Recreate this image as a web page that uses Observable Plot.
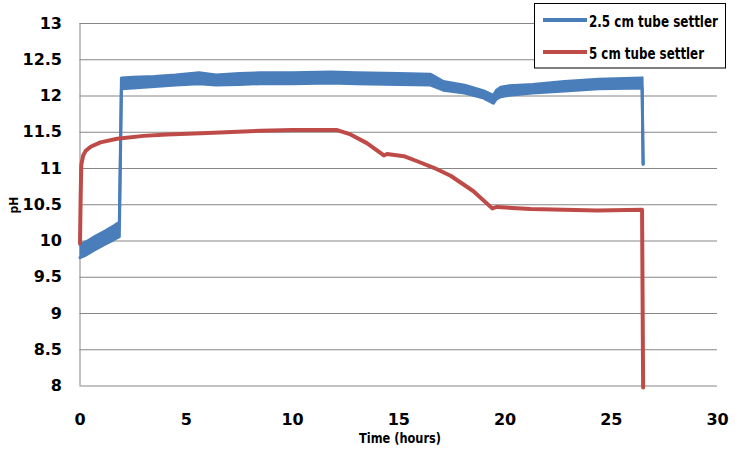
<!DOCTYPE html>
<html>
<head>
<meta charset="utf-8">
<script src="https://cdn.jsdelivr.net/npm/d3@7"></script>
<script src="https://cdn.jsdelivr.net/npm/@observablehq/plot@0.6"></script>
<style>
  body { margin: 0; background: #fff; }
  #chart { position: relative; width: 752px; height: 451px; }
</style>
</head>
<body>
<div id="chart"></div>
<script>
// 2.5 cm tube settler (noisy band: low / high edges)
const blueTime = [0, 0.3, 0.7, 1.2, 1.6, 1.85, 1.95, 2.5, 3.5, 4.5, 5.6, 6.4, 7.5, 8.5, 10, 11.8, 13, 15, 16.5, 17.1, 18.1, 19.0, 19.45, 19.6, 19.8, 20.2, 21.3, 22.8, 24.4, 26.45, 26.5];
const blueLow  = [9.77, 9.81, 9.88, 9.96, 10.02, 10.06, 12.10, 12.11, 12.13, 12.15, 12.17, 12.15, 12.16, 12.17, 12.17, 12.18, 12.17, 12.16, 12.15, 12.08, 12.04, 11.97, 11.90, 11.96, 11.99, 12.01, 12.04, 12.07, 12.10, 12.11, 11.06];
const blueHigh = [9.95, 9.99, 10.06, 10.14, 10.21, 10.26, 12.25, 12.26, 12.27, 12.29, 12.32, 12.29, 12.31, 12.32, 12.32, 12.33, 12.32, 12.31, 12.30, 12.20, 12.15, 12.07, 12.01, 12.08, 12.12, 12.14, 12.16, 12.20, 12.23, 12.25, 11.06];

// 5 cm tube settler
const redTime = [0, 0.03, 0.06, 0.15, 0.26, 0.5, 0.96, 1.75, 3, 4.1, 6, 8.5, 10, 12.1, 12.73, 13.5, 14.3, 14.45, 15.24, 15.87, 16.65, 17.44, 18.5, 19.4, 19.63, 21.2, 24.34, 26.45, 26.5];
const redPH   = [9.97, 10.6, 11.05, 11.18, 11.24, 11.3, 11.36, 11.41, 11.45, 11.47, 11.49, 11.52, 11.53, 11.53, 11.47, 11.35, 11.18, 11.2, 11.17, 11.1, 11.01, 10.9, 10.69, 10.45, 10.47, 10.44, 10.42, 10.43, 7.98];

const xTicks = [0, 5, 10, 15, 20, 25, 30];
const yTicks = [8, 8.5, 9, 9.5, 10, 10.5, 11, 11.5, 12, 12.5, 13];
const seriesNames = ["2.5 cm tube settler", "5 cm tube settler"];
const seriesColors = ["#4A7EBB", "#BE4B48"];

const blue = blueTime.map((t, i) => ({t, lo: blueLow[i], hi: blueHigh[i]}));
const red = redTime.map((t, i) => ({t, ph: redPH[i]}));

const W = 752, H = 451;
const chart = Plot.plot({
  width: W,
  height: H,
  marginLeft: 79.5,
  marginRight: 35,
  marginTop: 23,
  marginBottom: 65.5,
  style: {fontFamily: "DejaVu Sans", fontWeight: "bold", fontSize: "16px", background: "#fff", color: "#000"},
  x: {domain: [0, 30]},
  y: {domain: [8, 13]},
  marks: [
    Plot.ruleY(yTicks, {stroke: "#868686", strokeWidth: 1}),
    Plot.ruleX([0], {stroke: "#868686", strokeWidth: 1}),
    Plot.axisX({ticks: xTicks, tickSize: 0, tickPadding: 28, tickFormat: d => String(d), fontSize: 16, fontWeight: "bold", label: null}),
    Plot.axisY({ticks: yTicks, tickSize: 0, tickPadding: 18, tickFormat: d => String(d), fontSize: 16, fontWeight: "bold", label: null}),
    Plot.areaY(blue, {x: "t", y1: "lo", y2: "hi", fill: seriesColors[0], curve: "linear"}),
    Plot.line(blue, {x: "t", y: "lo", stroke: seriesColors[0], strokeWidth: 3}),
    Plot.line(blue, {x: "t", y: "hi", stroke: seriesColors[0], strokeWidth: 3}),
    Plot.line(red, {x: "t", y: "ph", stroke: seriesColors[1], strokeWidth: 4, strokeLinejoin: "round"})
  ]
});
document.getElementById("chart").appendChild(chart);

const svg = d3.select(chart);
// Axis titles
svg.append("text")
  .attr("x", 400).attr("y", 443)
  .attr("text-anchor", "middle")
  .attr("font-family", "DejaVu Sans Condensed, DejaVu Sans")
  .attr("font-weight", "bold").attr("font-size", 14)
  .attr("textLength", 82).attr("lengthAdjust", "spacingAndGlyphs")
  .attr("fill", "#000")
  .text("Time (hours)");
svg.append("text")
  .attr("transform", "translate(17.5,205) rotate(-90)")
  .attr("text-anchor", "middle")
  .attr("font-family", "DejaVu Sans Condensed, DejaVu Sans")
  .attr("font-weight", "bold").attr("font-size", 12)
  .attr("fill", "#000")
  .text("pH");

// Legend
const lg = svg.append("g").attr("text-anchor", "start");
lg.append("rect").attr("x", 534.5).attr("y", 3.5).attr("width", 191).attr("height", 64.5)
  .attr("fill", "#fff").attr("stroke", "#000").attr("stroke-width", 1);
const lens = [129, 115];
seriesNames.forEach((name, i) => {
  const y = 20 + i * 32;
  lg.append("line").attr("x1", 543).attr("x2", 587).attr("y1", y).attr("y2", y)
    .attr("stroke", seriesColors[i]).attr("stroke-width", 4);
  lg.append("text").attr("x", 589).attr("y", y + 6.5)
    .attr("text-anchor", "start")
    .attr("font-family", "DejaVu Sans Condensed, DejaVu Sans")
    .attr("font-weight", "bold").attr("font-size", 15)
    .attr("textLength", lens[i]).attr("lengthAdjust", "spacingAndGlyphs")
    .attr("fill", "#000")
    .text(name);
});
</script>
</body>
</html>
